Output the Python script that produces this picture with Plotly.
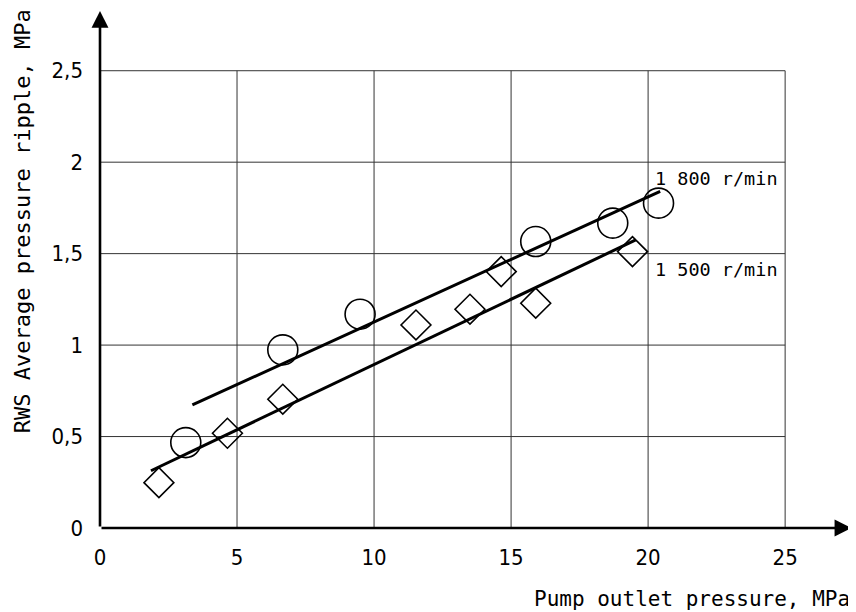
import plotly.graph_objects as go

# Data
x_1800 = [3.13, 6.67, 9.49, 15.9, 18.71, 20.38]
y_1800 = [0.467, 0.974, 1.169, 1.566, 1.667, 1.776]
x_1500 = [2.15, 4.65, 6.67, 11.53, 13.5, 14.64, 15.9, 19.43]
y_1500 = [0.248, 0.518, 0.704, 1.11, 1.196, 1.402, 1.229, 1.511]
fit_x_1800 = [3.37, 20.44]
fit_y_1800 = [0.673, 1.84]
fit_x_1500 = [1.86, 19.55]
fit_y_1500 = [0.313, 1.575]

x_ticks = [0, 5, 10, 15, 20, 25]
x_tick_labels = ["0", "5", "10", "15", "20", "25"]
y_ticks = [0, 0.5, 1, 1.5, 2, 2.5]
y_tick_labels = ["0", "0,5", "1", "1,5", "2", "2,5"]

label_1800 = "1 800 r/min"
label_1500 = "1 500 r/min"
x_title = "Pump outlet pressure, MPa"
y_title = "RWS Average pressure ripple, MPa"

X_MAX = 27.44
Y_MAX = 2.832

mono = "DejaVu Sans Mono"
narrow = "Liberation Sans Narrow, DejaVu Sans Condensed, sans-serif"

fig = go.Figure()

fig.add_trace(go.Scatter(x=fit_x_1800, y=fit_y_1800, mode="lines",
                         line=dict(color="black", width=3), showlegend=False))
fig.add_trace(go.Scatter(x=fit_x_1500, y=fit_y_1500, mode="lines",
                         line=dict(color="black", width=3), showlegend=False))
fig.add_trace(go.Scatter(x=x_1800, y=y_1800, mode="markers",
                         marker=dict(symbol="circle-open", size=30, color="black",
                                     line=dict(width=1.6, color="black")),
                         showlegend=False))
fig.add_trace(go.Scatter(x=x_1500, y=y_1500, mode="markers",
                         marker=dict(symbol="diamond-open", size=23, color="black",
                                     line=dict(width=1.6, color="black")),
                         showlegend=False))

shapes = []
for xv in x_ticks[1:]:
    shapes.append(dict(type="line", xref="x", yref="y", x0=xv, x1=xv, y0=0, y1=y_ticks[-1],
                       line=dict(color="#333", width=1), layer="below"))
for yv in y_ticks[1:]:
    shapes.append(dict(type="line", xref="x", yref="y", x0=0, x1=x_ticks[-1], y0=yv, y1=yv,
                       line=dict(color="#333", width=1), layer="below"))

annotations = [
    # axes with arrows
    dict(x=X_MAX - 0.02, y=0, ax=0, ay=0, xref="x", yref="y", axref="x", ayref="y",
         showarrow=True, arrowhead=2, arrowsize=1.3, arrowwidth=2.6, arrowcolor="black", text=""),
    dict(x=0, y=Y_MAX - 0.005, ax=0, ay=0, xref="x", yref="y", axref="x", ayref="y",
         showarrow=True, arrowhead=2, arrowsize=1.3, arrowwidth=2.6, arrowcolor="black", text=""),
    dict(x=20.18, y=1.91, xref="x", yref="y", text=label_1800, showarrow=False,
         xanchor="left", yanchor="middle", font=dict(family=mono, size=18.5, color="black")),
    dict(x=20.18, y=1.416, xref="x", yref="y", text=label_1500, showarrow=False,
         xanchor="left", yanchor="middle", font=dict(family=mono, size=18.5, color="black")),
    dict(x=1.0, y=-0.137, xref="paper", yref="paper", text=x_title, showarrow=False,
         xanchor="right", yanchor="middle", font=dict(family=mono, size=21, color="black")),
    dict(x=-0.102, y=1.006, xref="paper", yref="paper", text=y_title, showarrow=False,
         textangle=-90, xanchor="center", yanchor="top",
         font=dict(family=mono, size=22, color="black")),
]

fig.update_layout(
    width=848, height=604,
    margin=dict(l=92, r=4, t=2, b=84),
    paper_bgcolor="white", plot_bgcolor="white",
    shapes=shapes, annotations=annotations,
    xaxis=dict(range=[0, X_MAX], showgrid=False, zeroline=False, showline=False,
               tickvals=x_ticks, ticktext=x_tick_labels, ticks="",
               ticklabelstandoff=14,
               tickfont=dict(family=narrow, size=22, color="black")),
    yaxis=dict(range=[0, Y_MAX], showgrid=False, zeroline=False, showline=False,
               tickvals=y_ticks, ticktext=y_tick_labels, ticks="",
               ticklabelstandoff=16,
               tickfont=dict(family=narrow, size=22, color="black")),
)

fig.write_html("out.html")
